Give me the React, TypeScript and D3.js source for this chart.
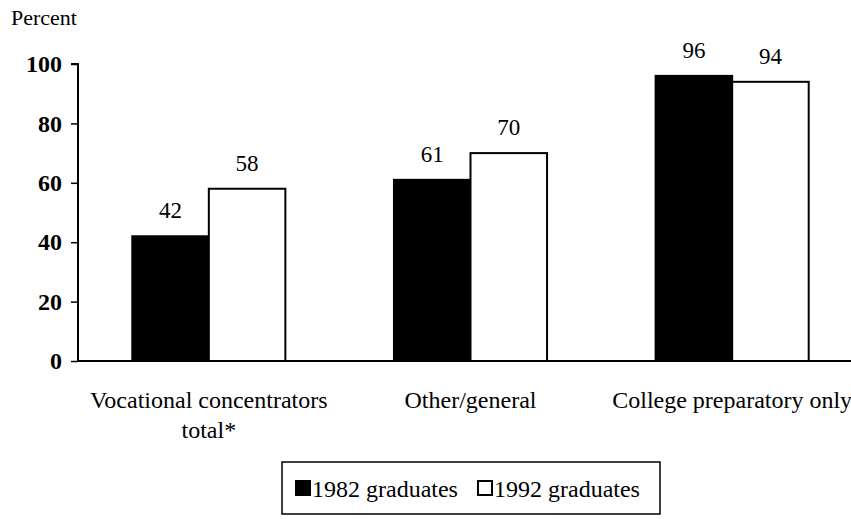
import React, { useEffect, useRef } from 'react';
import * as d3 from 'd3';

const categories = ['Vocational concentrators total*', 'Other/general', 'College preparatory only'];
const categoryLines = [['Vocational concentrators', 'total*'], ['Other/general'], ['College preparatory only']];
const seriesNames = ['1982 graduates', '1992 graduates'];
const values1982 = [42, 61, 96];
const values1992 = [58, 70, 94];
const yTicks = [0, 20, 40, 60, 80, 100];

const App: React.FC = () => {
  const ref = useRef<SVGSVGElement>(null);

  useEffect(() => {
    if (!ref.current) return;
    const svg = d3.select(ref.current);
    svg.selectAll('*').remove();

    const font = "'Liberation Serif', 'DejaVu Serif', serif";
    const x0 = 78;
    const y = d3.scaleLinear().domain([0, 100]).range([361, 64]);
    const x = d3.scaleBand<string>().domain(categories).range([x0, 863]).paddingInner(0.415).paddingOuter(0.2075);
    const xs = d3.scaleBand<string>().domain(seriesNames).range([0, x.bandwidth()]);
    const fills = ['#000', '#fff'];

    svg.append('text').attr('x', 11).attr('y', 25).style('font-family', font).attr('font-size', 22).text('Percent');

    // y axis
    const yAxis = svg.append('g').attr('transform', `translate(${x0},0)`)
      .call(d3.axisLeft(y).tickValues(yTicks).tickSize(7).tickPadding(9));
    yAxis.select('.domain').attr('stroke', '#000').attr('stroke-width', 2).attr('d', `M-7,${y(100)}H0V${y(0)}`);
    yAxis.selectAll('.tick line').attr('stroke', '#000').attr('stroke-width', 1.5);
    yAxis.selectAll('.tick text').style('font-family', font).attr('font-size', 24).attr('fill', '#000').attr('font-weight', 'bold');

    // x axis baseline
    svg.append('line').attr('x1', x0).attr('x2', 851).attr('y1', y(0)).attr('y2', y(0)).attr('stroke', '#000').attr('stroke-width', 2);

    const series = [values1982, values1992];
    categories.forEach((c, i) => {
      const g = svg.append('g').attr('transform', `translate(${x(c)},0)`);
      series.forEach((vals, s) => {
        const v = vals[i];
        g.append('rect')
          .attr('x', xs(seriesNames[s])!)
          .attr('y', y(v))
          .attr('width', xs.bandwidth())
          .attr('height', y(0) - y(v))
          .attr('fill', fills[s])
          .attr('stroke', '#000')
          .attr('stroke-width', 2);
        g.append('text')
          .attr('x', xs(seriesNames[s])! + xs.bandwidth() / 2)
          .attr('y', y(v) - 18)
          .attr('text-anchor', 'middle')
          .style('font-family', font)
          .attr('font-size', 23)
          .text(v);
      });
      categoryLines[i].forEach((line, k) => {
        svg.append('text')
          .attr('x', x(c)! + x.bandwidth() / 2)
          .attr('y', 408 + k * 30)
          .attr('text-anchor', 'middle')
          .style('font-family', font)
          .attr('font-size', 24)
          .text(line);
      });
    });

    // legend
    const lg = svg.append('g').attr('transform', 'translate(282,462)');
    lg.append('rect').attr('width', 378).attr('height', 52).attr('fill', '#fff').attr('stroke', '#000').attr('stroke-width', 1.5);
    const legendX = [14, 196];
    seriesNames.forEach((name, s) => {
      lg.append('rect').attr('x', legendX[s]).attr('y', 19).attr('width', 14).attr('height', 14)
        .attr('fill', fills[s]).attr('stroke', '#000').attr('stroke-width', 2);
      lg.append('text').attr('x', legendX[s] + 16).attr('y', 35).style('font-family', font).attr('font-size', 24).text(name);
    });
  }, []);

  return <svg ref={ref} width={851} height={519} style={{ position: 'absolute', left: 0, top: 0, background: '#fff' }} />;
};

export default App;
